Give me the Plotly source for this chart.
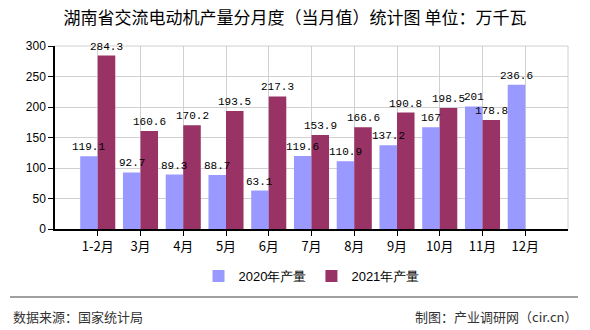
import plotly.graph_objects as go

categories = ["1-2月", "3月", "4月", "5月", "6月", "7月", "8月", "9月", "10月", "11月", "12月"]
values_2020 = [119.1, 92.7, 89.3, 88.7, 63.1, 119.6, 110.9, 137.2, 167, 201, 236.6]
values_2021 = [284.3, 160.6, 170.2, 193.5, 217.3, 153.9, 166.6, 190.8, 198.5, 178.8, None]
y_ticks = [0, 50, 100, 150, 200, 250, 300]

W, H = 590, 330
L, R, T, B = 55, 22, 46, 101
BARGAP = 0.18

label_font = dict(family="Liberation Mono, DejaVu Sans Mono, monospace", size=11, color="#000000")
cjk = "Noto Sans CJK SC"

def fmt(v):
    return "%g" % v

fig = go.Figure()
fig.add_trace(go.Bar(
    x=categories, y=values_2020, name="2020年产量",
    marker=dict(color="#9999FF", line=dict(width=0)),
))
fig.add_trace(go.Bar(
    x=categories, y=values_2021, name="2021年产量",
    marker=dict(color="#993366", line=dict(width=0)),
))

plot_w = W - L - R
cat_px = plot_w / 12.0
half_bar = cat_px * (1 - BARGAP) / 4.0
annotations = []
for series, shift in ((values_2020, -half_bar), (values_2021, half_bar)):
    for c, v in zip(categories, series):
        if v is None:
            continue
        annotations.append(dict(
            x=c, y=v, xref="x", yref="y", text=fmt(v), showarrow=False,
            xanchor="center", yanchor="bottom", xshift=shift, yshift=1,
            font=label_font,
        ))

fy = lambda py: -(py - (H - B)) / (H - T - B)
fx = lambda px: (px - L) / plot_w

annotations += [
    dict(text="数据来源：国家统计局", xref="paper", yref="paper",
         x=fx(11), xanchor="left", y=fy(316), yanchor="middle", showarrow=False,
         font=dict(family=cjk, size=13, color="#333333")),
    dict(text="制图：产业调研网（cir.cn）", xref="paper", yref="paper",
         x=fx(579), xanchor="right", y=fy(316), yanchor="middle", showarrow=False,
         font=dict(family=cjk, size=13, color="#333333")),
]

fig.update_layout(
    width=W, height=H,
    margin=dict(l=L, r=R, t=T, b=B, pad=0, autoexpand=False),
    paper_bgcolor="white", plot_bgcolor="white",
    barmode="group", bargap=BARGAP, bargroupgap=0,
    title=dict(text="湖南省交流电动机产量分月度（当月值）统计图 单位：万千瓦",
               x=0.5, xanchor="center", y=1 - 18 / H, yanchor="middle",
               font=dict(family=cjk, size=17, color="#000000")),
    showlegend=True,
    legend=dict(orientation="h", x=0.5, xanchor="center", y=fy(276), yanchor="middle",
                font=dict(family="Liberation Sans, Arial, sans-serif", size=13, color="#000000"),
                itemwidth=30, traceorder="normal"),
    xaxis=dict(
        type="category", range=[-1, 11], automargin=False,
        showgrid=True, gridcolor="#D0D0D0", gridwidth=1,
        showline=True, linecolor="#000000", linewidth=1.5,
        ticks="outside", ticklen=5, tickcolor="#000000",
        tickfont=dict(family=cjk, size=13, color="#000000"),
    ),
    yaxis=dict(
        range=[0, 300], tickvals=y_ticks, automargin=False,
        showgrid=True, gridcolor="#D0D0D0", gridwidth=1,
        showline=True, linecolor="#000000", linewidth=1.5,
        ticks="outside", ticklen=5, tickcolor="#000000",
        tickfont=dict(family="Liberation Sans, Arial, sans-serif", size=12, color="#000000"),
        zeroline=False,
    ),
    shapes=[
        dict(type="line", xref="paper", yref="paper", x0=0, x1=1, y0=1, y1=1,
             line=dict(color="#D0D0D0", width=1)),
        dict(type="line", xref="paper", yref="paper", x0=1, x1=1, y0=0, y1=1,
             line=dict(color="#D0D0D0", width=1)),
        dict(type="line", xref="paper", yref="paper",
             x0=fx(10), x1=fx(578), y0=fy(297), y1=fy(297),
             line=dict(color="#808080", width=1.5)),
    ],
    annotations=annotations,
)

fig.write_html("out.html")
